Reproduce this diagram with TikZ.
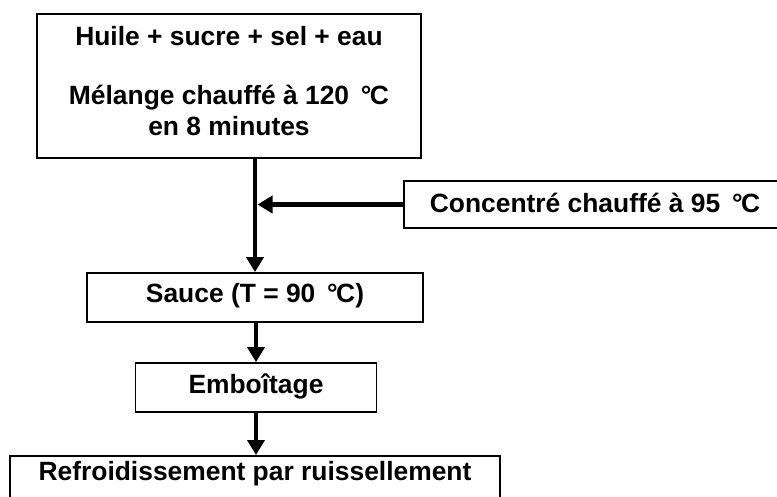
\documentclass[tikz,border=0pt]{standalone}
\usepackage{fontspec}
\setmainfont{Liberation Sans}
\usetikzlibrary{arrows.meta}
\begin{document}
\begin{tikzpicture}[x=1pt,y=-1pt,
  box/.style={draw=black,line width=1.8pt,inner xsep=0pt,
    font=\fontsize{26.4}{31}\selectfont\bfseries,align=center},
  arr/.style={line width=4.5pt,-{Triangle[width=17pt,length=15pt]}}]
\useasboundingbox (0,0) rectangle (777,497);
\node[box,minimum width=384pt,minimum height=144pt,inner ysep=10pt,anchor=north] (top) at (229,13)
  {Huile + sucre + sel + eau\\[28pt]Mélange chauffé à 120 \,°\kern-1.5pt C\\en 8 minutes\rule[-9pt]{0pt}{9pt}};
\node[box,minimum width=382pt,text height=19pt,text depth=2pt,inner ysep=13pt] (conc) at (595,204.5)
  {Concentré chauffé à 95 \,°\kern-1.5pt C};
\node[box,minimum width=336pt,text height=19pt,text depth=8pt,inner ysep=11pt] (sauce) at (255,297.5)
  {Sauce (T = 90 \,°\kern-1.5pt C)};
\node[box,minimum width=241pt,text height=19pt,text depth=8pt,inner ysep=11pt] (emb) at (256,387.5)
  {Emboîtage};
\node[box,minimum width=490pt,text height=17pt,text depth=40pt,inner ysep=8pt,anchor=north] (refr) at (255,455)
  {Refroidissement par ruissellement};
\draw[arr] (top.south -| sauce.north) -- (sauce.north);
\draw[arr] (conc.west) -- ([xshift=2.5pt]conc.west -| sauce.north);
\draw[arr] (sauce.south -| emb.north) -- (emb.north);
\draw[arr] (emb.south) -- (emb.south |- refr.north);
\end{tikzpicture}
\end{document}
